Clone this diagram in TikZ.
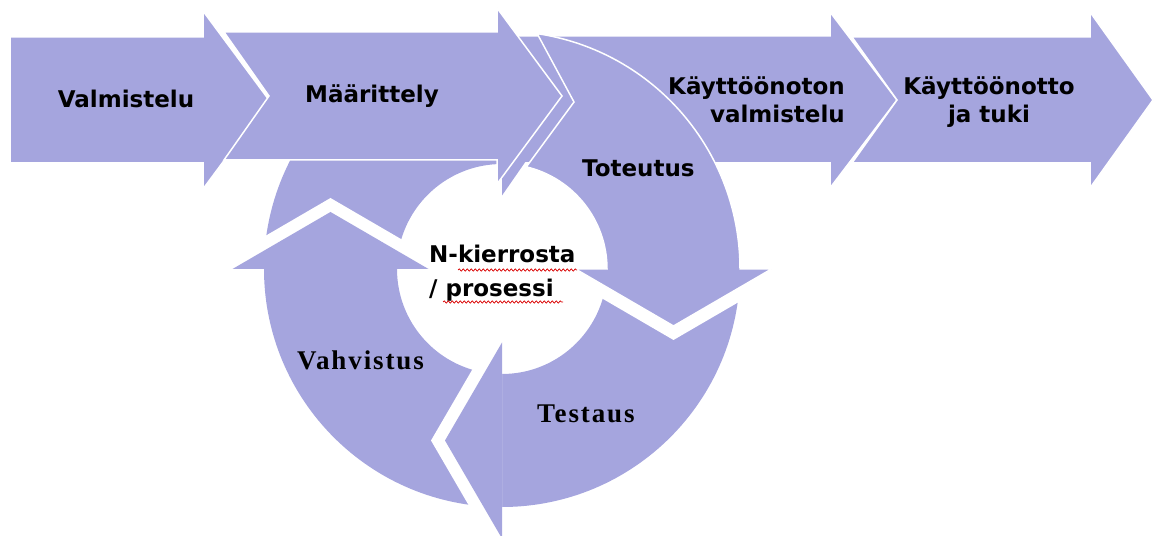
\documentclass[tikz,border=0pt]{standalone}
\usepackage{fontspec}
\setmainfont{DejaVu Sans}
\newfontfamily\stagefont{DejaVu Sans}
\newfontfamily\cyclefont{Liberation Serif}[LetterSpace=7]
\usetikzlibrary{calc,decorations.pathmorphing}

\definecolor{stage}{RGB}{165,165,222}

% ring geometry (pt)
\newcommand\RingIn{105}
\newcommand\RingOut{238}
\newcommand\RingMid{171.5}
\newcommand\HeadIn{73.5}
\newcommand\HeadOut{269.5}
\newcommand\HeadLen{57}
\newcommand\GapIn{49.5}
\newcommand\GapOut{293.5}
\newcommand\GapLen{71}

% annular sector from angle #1 to angle #2
\newcommand\RingSector[2]{($(C)+(#1:\RingOut)$) arc[start angle=#1, end angle=#2, radius=238pt] -- ($(C)+(#2:\RingIn)$) arc[start angle=#2, end angle=#1, radius=105pt] -- cycle}
% arrow head whose base lies on the radius at angle #1, pointing clockwise
\newcommand\HeadPath[1]{($(C)+(#1:\HeadIn)$) -- ($(C)+(#1:\RingMid)+({#1-90}:\HeadLen)$) -- ($(C)+(#1:\HeadOut)$) -- cycle}
% the same head widened by the white gap
\newcommand\GapPath[1]{($(C)+(#1:\GapIn)$) -- ($(C)+(#1:\RingMid)+({#1-90}:\GapLen)$) -- ($(C)+(#1:\GapOut)$) -- cycle}

\tikzset{
  band/.style={fill=stage, draw=white, line width=1.5pt, line join=miter},
  seg/.style={fill=stage},
  stagelabel/.style={font=\stagefont\bfseries\fontsize{23}{28}\selectfont, inner sep=0pt, text=black},
  cyclelabel/.style={font=\cyclefont\bfseries\fontsize{27}{32}\selectfont, inner sep=0pt, text=black},
  squiggle/.style={draw=red!85!black, line width=0.7pt, decorate,
    decoration={snake, amplitude=1.1pt, segment length=4pt}},
}

\begin{document}
\begin{tikzpicture}[x=1pt,y=1pt]
\useasboundingbox (0,0) rectangle (1155,535);
\clip (0,0) rectangle (1155,535);

% phase arrows along the top
\draw[band] (10,372) -- (10,498) -- (203,498) -- (203,524) -- (269,435) -- (203,346) -- (203,372) -- cycle;
\draw[band] (505,372) -- (505,499) -- (830,499) -- (830,523) -- (897,435) -- (830,347) -- (830,372) -- cycle;
\draw[band] (852,372) -- (897,435) -- (852,498) -- (1090,498) -- (1090,523) -- (1153,435) -- (1090,347) -- (1090,372) -- cycle;

% iteration ring
\coordinate (C) at (502,266);
\fill[seg] \RingSector{270}{180};
\fill[seg] \RingSector{180}{90};
\fill[seg] \RingSector{0}{-90};
\fill[white] \GapPath{180};
\fill[white] \GapPath{-90};
\fill[white] \GapPath{0};
\fill[seg] \HeadPath{180};
\fill[seg] \HeadPath{-90};
\fill[seg] ($(C)+(90:237)$) -- ($(C)+(90:\RingMid)+(0:68)$) -- ($(C)+(90:\HeadIn)$) -- cycle;

% implementation segment
\draw[band] ($(C)+(72,167)$) -- ($(C)+(76.6:\RingIn)$)
  arc[start angle=76.6, end angle=0, radius=105pt]
  -- ($(C)+(0:\HeadIn)$) -- ($(C)+(0:\RingMid)+(-90:\HeadLen)$) -- ($(C)+(0:\HeadOut)$)
  -- ($(C)+(0:\RingOut)$) arc[start angle=0, end angle=81.5, radius=238pt] -- cycle;

% specification arrow on top
\draw[band] (224,375) -- (269,439) -- (224,503) -- (497,503) -- (497,527) -- (562,439) -- (497,351) -- (497,375) -- cycle;

% labels
\node[stagelabel, anchor=base] (valm) at (126,427) {Valmistelu};
\node[stagelabel, anchor=base west] (maar) at (305,432) {Määrittely};
\node[stagelabel, anchor=base west] (tot) at (582,358) {Toteutus};
\node[stagelabel, anchor=base east] (kv1) at (845,440) {Käyttöönoton};
\node[stagelabel, anchor=base east] (kv2) at (845,412) {valmistelu};
\node[stagelabel, anchor=base] (kt1) at (989,440) {Käyttöönotto};
\node[stagelabel, anchor=base] (kt2) at (989,412) {ja tuki};
\node[stagelabel, anchor=base west] (nk1) at (429,272) {N-kierrosta};
\node[stagelabel, anchor=base west] (nk2) at (429,238) {/ prosessi};
\node[cyclelabel, anchor=base west] (vahv) at (297,165) {Vahvistus};
\node[cyclelabel, anchor=base west] (test) at (537,112) {Testaus};

% spelling marks
\coordinate (sq1a) at (458,265);
\coordinate (sq1b) at (577,265);
\coordinate (sq2a) at (443,233);
\coordinate (sq2b) at (563,233);
\draw[squiggle] (sq1a) -- (sq1b);
\draw[squiggle] (sq2a) -- (sq2b);
\end{tikzpicture}
\end{document}
